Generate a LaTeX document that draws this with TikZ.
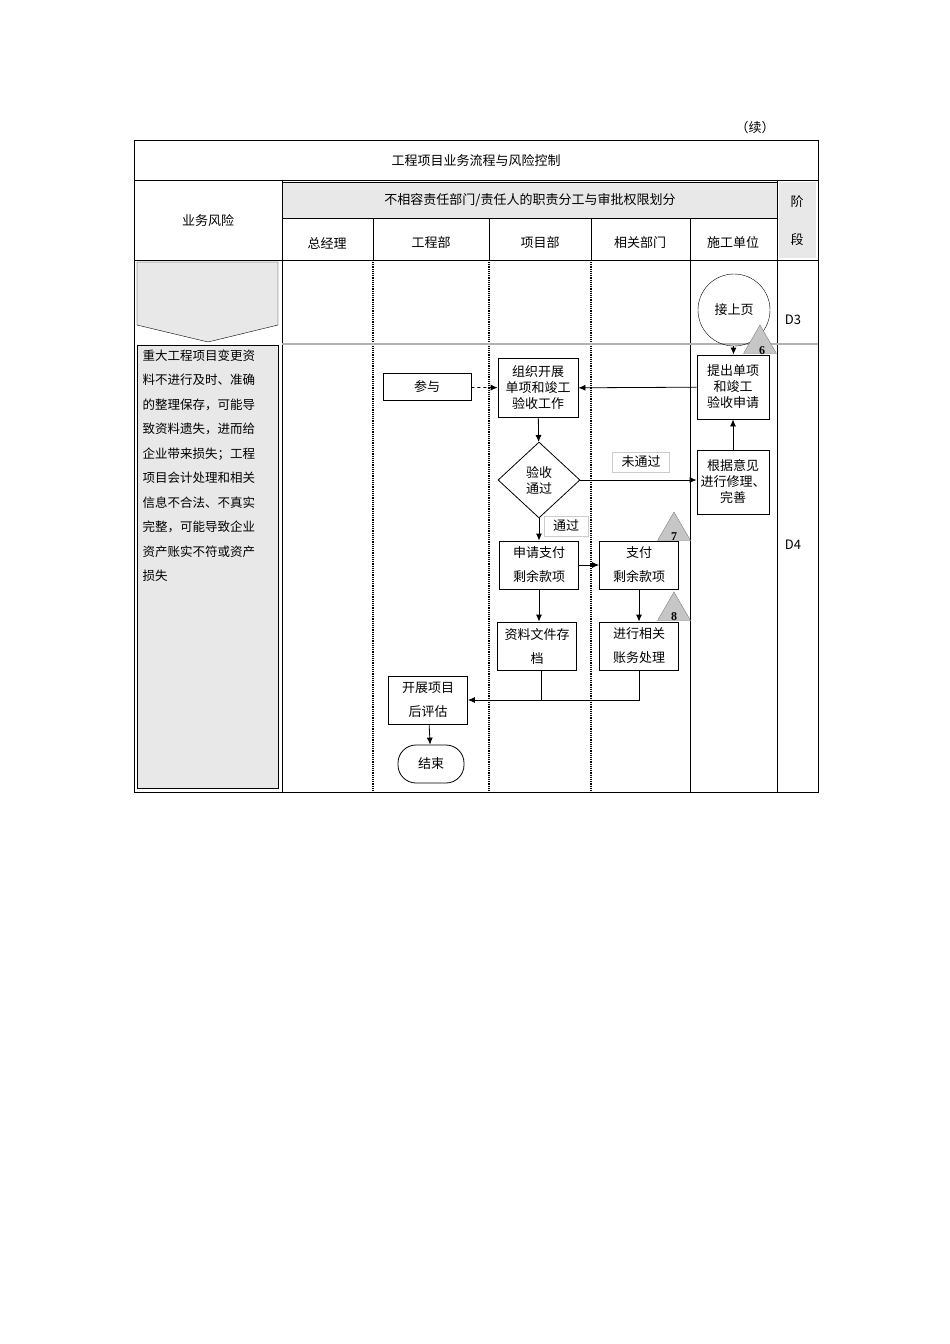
\documentclass[tikz,border=0pt]{standalone}
\usepackage{fontspec}
\setmainfont{Liberation Serif}
\newfontfamily\cjk{Noto Sans CJK SC}
\usetikzlibrary{shapes.geometric,arrows.meta}
\definecolor{gbg}{gray}{0.91}
\begin{document}
\begin{tikzpicture}[x=1pt,y=-1pt,font=\cjk\fontsize{13}{16}\selectfont,
 box/.style={draw,thick,align=center,inner sep=1pt},
 arr/.style={-{Latex[length=7pt,width=6pt]},thick},
 tri/.style={draw=gray,fill=gray!45,regular polygon,regular polygon sides=3,minimum size=38pt,inner sep=0pt,font=\bfseries\fontsize{12}{12}\selectfont},
 dot/.style={densely dotted,line width=1.2pt}]
\useasboundingbox (0,0) rectangle (950,1344);
\node at (755,128) {（续）};
% table
\draw[thick] (134,140) rectangle (818,792);
\node at (476,161) {工程项目业务流程与风险控制};
\draw[thick] (134,180) -- (818,180);
\fill[gbg] (282,182) rectangle (777,218);
\draw (282,182) rectangle (777,218);
\node at (530,200) {不相容责任部门/责任人的职责分工与审批权限划分};
\fill[gbg] (779,182) rectangle (816,258);
\node at (797,202) {阶};
\node at (797,240) {段};
\node at (208,221) {业务风险};
\draw[thick] (134,260) -- (818,260);
\draw[thick] (282,180) -- (282,792);
\draw[thick] (777,180) -- (777,792);
\foreach \x in {373,489,591,690} \draw[thick] (\x,218) -- (\x,260);
\foreach \x/\t in {327/总经理,431/工程部,540/项目部,640/相关部门,733/施工单位} \node at (\x,243) {\t};
\foreach \x in {373,489,591} \draw[dot] (\x,262) -- (\x,792);
\draw (690,260) -- (690,792);
\draw[gray!60,line width=1.2pt] (282,344) -- (818,344);
\node at (793,320) {D3};
\node at (793,545) {D4};
% left column
\draw[fill=gbg] (137,262) -- (278,262) -- (278,325) -- (208,342) -- (137,325) -- cycle;
\draw[fill=gbg] (137,345) rectangle (278,788);
\node[anchor=north west,align=left,text width=136pt,font=\cjk\fontsize{12.5}{24.5}\selectfont] at (139,346)
 {重大工程项目变更资\\料不进行及时、准确\\的整理保存，可能导\\致资料遗失，进而给\\企业带来损失；工程\\项目会计处理和相关\\信息不合法、不真实\\完整，可能导致企业\\资产账实不符或资产\\损失};
% nodes
\node[circle,draw,minimum size=72pt,inner sep=0pt] (s) at (734,310) {接上页};
\node[box,minimum width=72pt,minimum height=64pt] (a) at (733,387) {提出单项\\和竣工\\验收申请};
\node[tri] (t6) at (760,344) {};
\node[font=\bfseries\fontsize{12}{12}\selectfont] at (762,351) {6};
\node[box,minimum width=88pt,minimum height=27pt] (cy) at (427,387) {参与};
\node[box,minimum width=80pt,minimum height=59pt] (zz) at (538,388) {组织开展\\单项和竣工\\验收工作};
\node[diamond,draw,thick,minimum width=82pt,minimum height=76pt,inner sep=0pt,align=center] (d) at (539,480) {验收\\通过};
\node[draw=gray!40,fill=white,minimum width=57pt,minimum height=20pt,inner sep=0pt] at (641,462) {未通过};
\node[box,minimum width=72pt,minimum height=64pt] (g) at (733,482) {根据意见\\进行修理、\\完善};
\node[draw=gray!40,fill=white,minimum width=44pt,minimum height=20pt,inner sep=0pt] at (566,526) {通过};
\node[box,minimum width=79pt,minimum height=48pt,font=\cjk\fontsize{13}{24}\selectfont] (sq) at (539,565) {申请支付\\剩余款项};
\node[box,minimum width=79pt,minimum height=48pt,font=\cjk\fontsize{13}{24}\selectfont] (zf) at (639,565) {支付\\剩余款项};
\node[tri] (t7) at (674,531) {};
\node[font=\bfseries\fontsize{12}{12}\selectfont] at (674,537) {7};
\node[box,minimum width=79pt,minimum height=48pt,font=\cjk\fontsize{13}{24}\selectfont] (zl) at (537,646) {资料文件存\\档};
\node[box,minimum width=79pt,minimum height=48pt,font=\cjk\fontsize{13}{24}\selectfont] (jx) at (639,646) {进行相关\\账务处理};
\node[tri] (t8) at (674,611) {};
\node[font=\bfseries\fontsize{12}{12}\selectfont] at (674,617) {8};
\node[box,minimum width=79pt,minimum height=48pt,font=\cjk\fontsize{13}{24}\selectfont] (kz) at (428,700) {开展项目\\后评估};
\node[draw,thick,rounded corners=18pt,minimum width=66pt,minimum height=38pt] (end) at (431,764) {结束};
% connectors
\draw[arr] (s) -- (a);
\draw[arr] (a) -- (zz);
\draw[arr,dashed] (cy) -- (zz);
\draw[arr] (zz) -- (d);
\draw[arr] (d.east) -- (g.west |- d.east);
\draw[arr] (g) -- (a);
\draw[arr] (d) -- (sq);
\draw[arr] (sq) -- (zf);
\draw[arr] (sq) -- (sq.south |- zl.north);
\draw[arr] (zf) -- (jx);
\coordinate (m1) at (541,700);
\draw[thick] (zl.south -| m1) -- (m1);
\draw[thick] (jx.south) -- (jx.south |- m1) -- (m1);
\draw[arr] (m1) -- (kz.east);
\draw[arr] (kz) -- (end);
\end{tikzpicture}
\end{document}
